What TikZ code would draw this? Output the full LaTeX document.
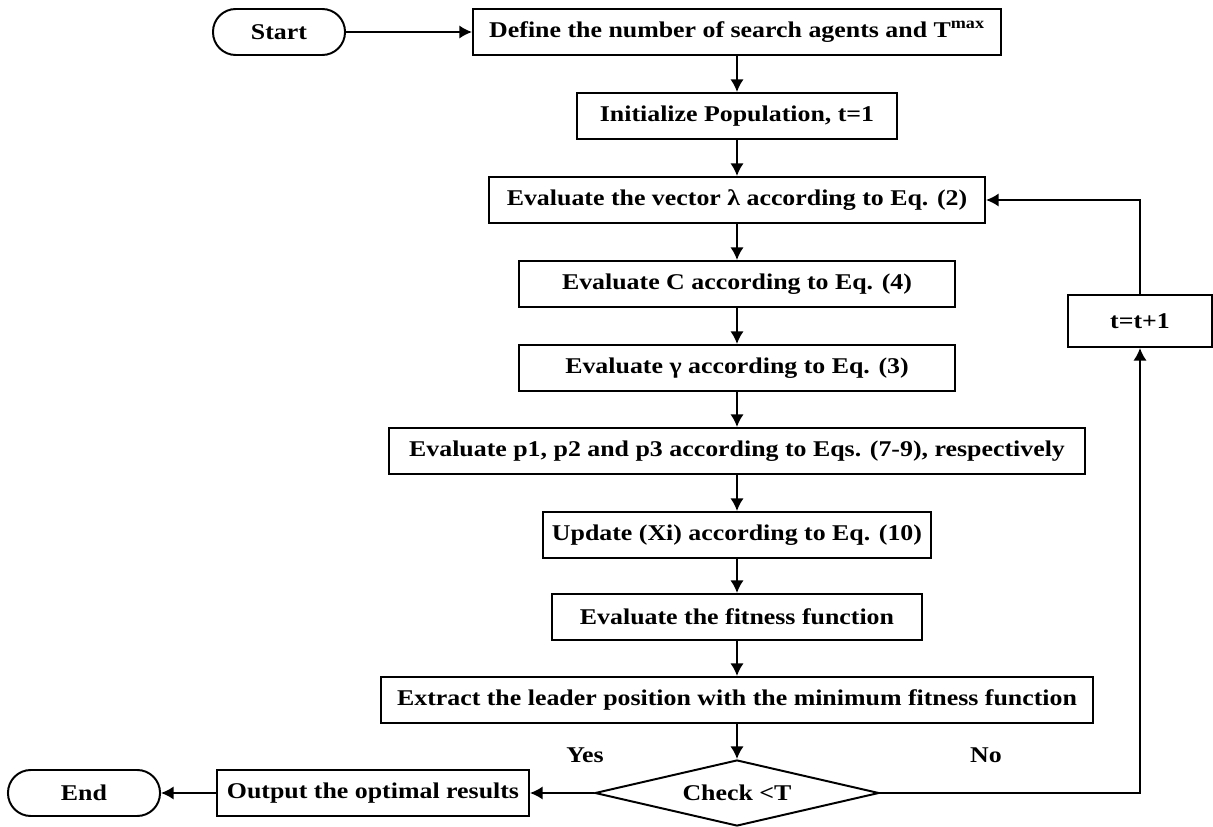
\documentclass[tikz,border=0pt]{standalone}
\usepackage{fontspec}
\setmainfont{Liberation Serif}[FakeStretch=1.15]
\usetikzlibrary{shapes.geometric,arrows.meta}
\begin{document}
\begin{tikzpicture}[x=0.025cm,y=-0.025cm,
	box/.style={draw, line width=1.4pt, minimum height=1.15cm, inner sep=2pt, font=\fontsize{16}{19}\selectfont\bfseries},
	term/.style={box, rounded corners=0.57cm},
	line/.style={line width=1.4pt, -{Latex[length=9pt,width=9.5pt]}}]
\useasboundingbox (0,0) rectangle (1213,827);

\node[term, minimum width=3.3cm] (start) at (279,32) {Start};
\node[box, minimum width=13.2cm] (define) at (737,32) {Define the number of search agents and T\textsuperscript{max}};
\node[box, minimum width=8.0cm] (init) at (737,116) {Initialize Population, t=1};
\node[box, minimum width=12.4cm] (lambda) at (737,200) {Evaluate the vector λ according to Eq. (2)};
\node[box, minimum width=10.9cm] (evalc) at (737,284) {Evaluate C according to Eq. (4)};
\node[box, minimum width=10.9cm] (gamma) at (737,368) {Evaluate γ according to Eq. (3)};
\node[box, minimum width=17.4cm] (evalp) at (737,451) {Evaluate p1, p2 and p3 according to Eqs. (7-9), respectively};
\node[box, minimum width=9.7cm] (update) at (737,535) {Update (Xi) according to Eq. (10)};
\node[box, minimum width=9.25cm] (fitness) at (737,617) {Evaluate the fitness function};
\node[box, minimum width=17.8cm] (leader) at (737,700) {Extract the leader position with the minimum fitness function};
\node[box, shape=diamond, aspect=4.3, inner sep=0pt, minimum width=7.1cm, minimum height=1.65cm] (check) at (737,793) {Check <T};
\node[box, minimum width=7.8cm] (output) at (373,793) {Output the optimal results};
\node[term, minimum width=3.8cm] (end) at (84,793) {End};
\node[box, minimum width=3.6cm, minimum height=1.3cm] (tinc) at (1140,321) {t=t+1};

\node[font=\fontsize{16}{19}\selectfont\bfseries] (yes) at (585,755) {Yes};
\node[font=\fontsize{16}{19}\selectfont\bfseries] (no) at (986,755) {No};

\draw[line] (start) -- (define);
\foreach \a/\b in {define/init, init/lambda, lambda/evalc, evalc/gamma, gamma/evalp, evalp/update, update/fitness, fitness/leader, leader/check} {
	\draw[line] (\a) -- (\b);
}
\draw[line] (check.west) -- (output.east);
\draw[line] (output.west) -- (end.east);
\draw[line] (check.east) -| (tinc.south);
\draw[line] (tinc.north) |- (lambda.east);
\end{tikzpicture}
\end{document}
